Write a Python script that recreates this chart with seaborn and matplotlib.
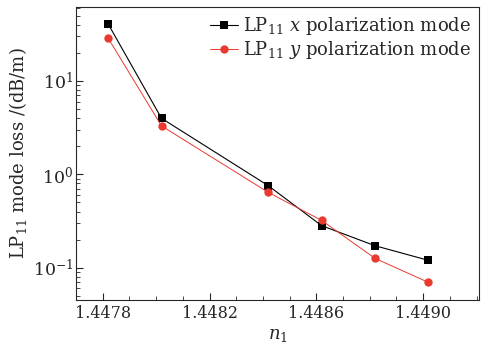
import numpy as np
import pandas as pd
import matplotlib
matplotlib.use('Agg')
import matplotlib.pyplot as plt
import seaborn as sns
from matplotlib.ticker import MultipleLocator, LogLocator, NullFormatter

# data
n1 = [1.44782, 1.44802, 1.44842, 1.44862, 1.44882, 1.44902]
loss_x = [40.8, 3.98, 0.756, 0.282, 0.172, 0.120]
loss_y = [28.7, 3.30, 0.641, 0.321, 0.126, 0.0697]
x_ticks = [1.4478, 1.4482, 1.4486, 1.4490]
x_tick_labels = ['1.4478', '1.4482', '1.4486', '1.4490']

sns.set_style('ticks')
plt.rcParams['font.family'] = ['DejaVu Serif']
plt.rcParams['mathtext.fontset'] = 'dejavuserif'

df = pd.DataFrame({
    'n1': n1 * 2,
    'loss': loss_x + loss_y,
    'pol': ['x'] * 6 + ['y'] * 6,
})

fig = plt.figure(figsize=(4.94, 3.45), dpi=100)
ax = fig.add_axes([0.154, 0.130, 0.816, 0.850])

sns.lineplot(data=df[df['pol'] == 'x'], x='n1', y='loss',
             color='black', marker='s', markersize=5.5, markeredgewidth=0,
             linewidth=0.8, label='LP$_{11}$ $x$ polarization mode', ax=ax)
sns.lineplot(data=df[df['pol'] == 'y'], x='n1', y='loss',
             color='#ea3a30', marker='o', markersize=6, markeredgewidth=0,
             linewidth=0.7, label='LP$_{11}$ $y$ polarization mode', ax=ax)

ax.set_yscale('log')
ax.set_xlim(1.4477, 1.44921)
ax.set_ylim(0.045, 62)
ax.set_xticks(x_ticks)
ax.set_xticklabels(x_tick_labels)
ax.xaxis.set_minor_locator(MultipleLocator(0.0001))
ax.yaxis.set_minor_locator(LogLocator(base=10, subs=np.arange(2, 10)))
ax.yaxis.set_minor_formatter(NullFormatter())

ax.tick_params(which='both', direction='in', labelsize=11.5)
ax.tick_params(axis='y', labelsize=12.5, pad=2)
ax.tick_params(which='major', length=5, width=0.8)
ax.tick_params(which='minor', length=3, width=0.6)
for s in ax.spines.values():
    s.set_linewidth(0.8)

ax.set_xlabel('$n_1$', fontsize=13, labelpad=3)
ax.set_ylabel('LP$_{11}$ mode loss /(dB/m)', fontsize=13, labelpad=3)

ax.legend(loc='upper right', frameon=False, fontsize=13, handlelength=1.5,
          handletextpad=0.3, borderaxespad=0.05, labelspacing=0.1)

fig.savefig('out.png', dpi=100)
